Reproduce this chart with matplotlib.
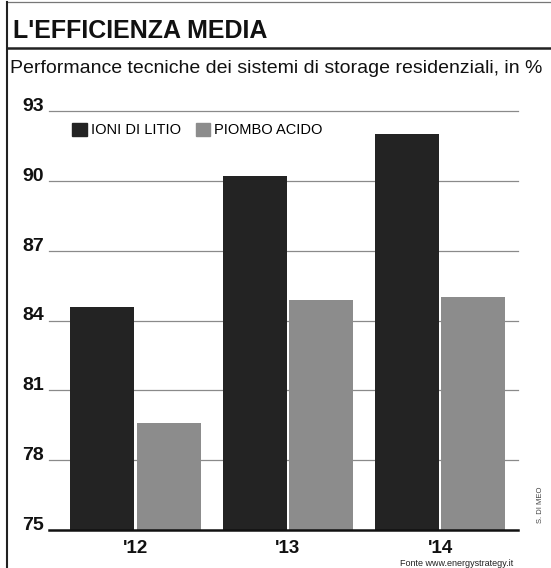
import matplotlib
matplotlib.use("Agg")
import matplotlib.pyplot as plt
from matplotlib.patches import Patch
from matplotlib.lines import Line2D

# efficienza media per anno, in %
years = ["'12", "'13", "'14"]
ioni_litio = [84.6, 90.2, 92.0]
piombo_acido = [79.6, 84.9, 85.0]
series_names = ["IONI DI LITIO", "PIOMBO ACIDO"]
yticks = [75, 78, 81, 84, 87, 90, 93]

title = "L'EFFICIENZA MEDIA"
subtitle = "Performance tecniche dei sistemi di storage residenziali, in %"
source = "Fonte www.energystrategy.it"
credit = "S. DI MEO"

FONT = ["Liberation Sans", "DejaVu Sans"]
DARK = "#232323"
LIGHT = "#8c8c8c"
GRID = "#8a8a8a"

W, H = 551, 568
fig = plt.figure(figsize=(W / 100, H / 100), dpi=100)


def fx(px):
    return px / W


def fy(py):
    return 1 - py / H


# frame: top rule, left rule, line under the title
fig.add_artist(Line2D([fx(7), 1], [fy(2), fy(2)], color="#777777", lw=0.9))
fig.add_artist(Line2D([fx(7), fx(7)], [fy(2), 0], color="#222222", lw=1.5))
fig.add_artist(Line2D([fx(7), 1], [fy(48), fy(48)], color="#222222", lw=1.8))

fig.text(fx(13), fy(38), title, family=FONT, fontweight="bold",
         fontsize=18, va="baseline", ha="left", color="#111111")
fig.text(fx(10), fy(73), subtitle, family=FONT, fontsize=14,
         va="baseline", ha="left", color="#111111")

ax = fig.add_axes([fx(49), fy(530), fx(518) - fx(49), fy(111) - fy(530)])

w = 0.42
gap = 0.016
x = list(range(len(years)))
ax.bar([i - w / 2 - gap / 2 for i in x], [v - 75 for v in ioni_litio], w,
       bottom=75, color=DARK, zorder=3)
ax.bar([i + w / 2 + gap / 2 for i in x], [v - 75 for v in piombo_acido], w,
       bottom=75, color=LIGHT, zorder=3)

ax.set_xlim(-0.566, 2.51)
ax.set_ylim(75, 93)

for t in yticks[1:]:
    ax.axhline(t, color=GRID, lw=0.9, zorder=1, clip_on=False)
for t in yticks:
    ax.text(-0.01, t, str(t), transform=ax.get_yaxis_transform(),
            ha="right", va="baseline", family=FONT, fontweight="bold",
            fontsize=14, color="#111111")
ax.axhline(75, color="#111111", lw=1.8, zorder=4, clip_on=False)

ax.set_xticks(x)
ax.set_xticklabels(years, family=FONT, fontweight="bold", fontsize=13.5,
                   color="#111111")
ax.tick_params(axis="x", length=0, pad=7)
ax.set_yticks([])
for s in ax.spines.values():
    s.set_visible(False)

handles = [Patch(color=DARK), Patch(color=LIGHT)]
ax.legend(handles, series_names, loc="center left",
          bbox_to_anchor=(fx(72), fy(130)), bbox_transform=fig.transFigure,
          ncol=2, frameon=False, borderpad=0, borderaxespad=0,
          handlelength=1.0, handleheight=1.0, handletextpad=0.3,
          columnspacing=1.0, prop={"family": FONT, "size": 10.5})

fig.text(fx(513), fy(566), source, family=FONT, fontsize=6.5,
         ha="right", va="baseline", color="#222222")
fig.text(fx(541), fy(505), credit, family=FONT, fontsize=5.5,
         rotation=90, ha="center", va="center", color="#444444")

fig.savefig("out.png", dpi=100)
